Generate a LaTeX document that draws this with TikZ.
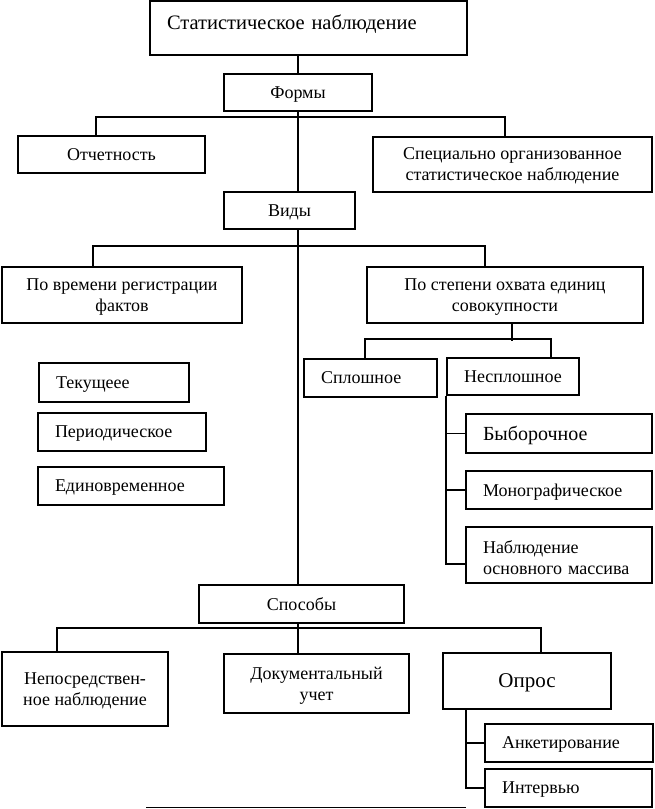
\documentclass[tikz,border=0pt]{standalone}
\usepackage{fontspec}
\setmainfont{Liberation Serif}
\usetikzlibrary{positioning}

\begin{document}
\begin{tikzpicture}[x=1pt,y=-1pt,line width=1.6pt,
  box/.style 2 args={draw,rectangle,inner sep=0pt,align=center,text depth=0pt,minimum width=#1,minimum height=#2,font=\fontsize{18}{21}\selectfont},
  lbox/.style 2 args={draw,rectangle,inner xsep=17pt,inner ysep=0pt,align=left,text depth=0pt,text width=#1,minimum height=#2,font=\fontsize{18}{21}\selectfont}
]
  \useasboundingbox (0,0) rectangle (655,809);
  % top part
  \node[draw,inner xsep=17pt,inner ysep=0pt,text width=283pt,align=left,text height=28pt,text depth=26pt,font=\fontsize{20.5}{24}\selectfont] (stat) at (308.5,28) {Статистическое наблюдение};
  \node[box={148pt}{37pt}] (formy) at (298,92.5) {Формы};
  \node[box={187pt}{37pt}] (otch) at (111.5,154.5) {Отчетность};
  \node[box={279pt}{55pt}] (spec) at (512.5,164.5) {Специально организованное\\статистическое наблюдение};
  \node[box={131pt}{37pt}] (vidy) at (289.5,210.5) {Виды};
  \node[box={240pt}{56pt}] (time) at (122,295) {По времени регистрации\\фактов};
  \node[box={276pt}{56pt}] (degree) at (505,295) {По степени охвата единиц\\совокупности};
  % kinds
  \node[lbox={99pt}{38pt}] (splosh) at (370.5,378) {Сплошное};
  \node[lbox={98pt}{37pt}] (nesplosh) at (513,376.5) {Несплошное};
  \node[lbox={116pt}{39pt}] (tek) at (114,382.5) {Текущеее};
  \node[lbox={134pt}{38pt}] (period) at (122,432) {Периодическое};
  \node[lbox={152pt}{38pt}] (edin) at (131,486) {Единовременное};
  \node[lbox={152pt}{39pt},font=\fontsize{20}{24}\selectfont] (vyb) at (559,433.5) {Быборочное};
  \node[lbox={152pt}{38pt}] (mono) at (559,490) {Монографическое};
  \node[lbox={152pt}{56pt},text height=26pt,text depth=30pt] (nabl) at (559,555) {Наблюдение\\основного массива};
  % methods
  \node[box={205pt}{38pt}] (sposob) at (301.5,604) {Способы};
  \node[box={166pt}{74pt}] (neposr) at (85,689) {Непосредствен-\\ное наблюдение};
  \node[box={185pt}{59pt}] (doc) at (316.5,683.5) {Документальный\\учет};
  \node[box={168pt}{56pt},font=\fontsize{21}{25}\selectfont] (opros) at (527,681) {Опрос};
  \node[lbox={134pt}{38pt}] (anket) at (569,743) {Анкетирование};
  \node[lbox={133pt}{38pt}] (interv) at (568.5,788) {Интервью};
  \coordinate (bl) at (146,807.5);
  \coordinate (br) at (466,807.5);

  % main line
  \draw (formy.north) -- (formy.north |- stat.south);
  \draw (formy.south) -- (formy.south |- vidy.north);
  \draw (formy.south |- vidy.south) -- (formy.south |- sposob.north);
  \draw (formy.south |- sposob.south) -- (formy.south |- doc.north);
  % branches
  \draw ([xshift=-15.5pt]otch.north) -- ++(0,-18) -| ([xshift=-7.5pt]spec.north);
  \draw ([xshift=-29pt]time.north) -- ++(0,-20) -| ([xshift=-20pt]degree.north);
  \draw ([xshift=7pt]degree.south) -- ++(0,17);
  \draw ([xshift=-5.5pt]splosh.north) -- ++(0,-19) -| ([xshift=38pt]nesplosh.north);
  \draw (nesplosh.south west) |- ([yshift=-9pt]nabl.west);
  \draw (vyb.west) -- (vyb.west -| nesplosh.south west);
  \draw (mono.west) -- (mono.west -| nesplosh.south west);
  \draw ([xshift=-28pt]neposr.north) -- ++(0,-23) -| ([xshift=14pt]opros.north);
  \draw ([xshift=-61pt]opros.south) |- (interv.west);
  \draw (anket.west) -- (anket.west -| interv.west) -- ++(-19,0);
  \draw (bl) -- (br);
\end{tikzpicture}
\end{document}
